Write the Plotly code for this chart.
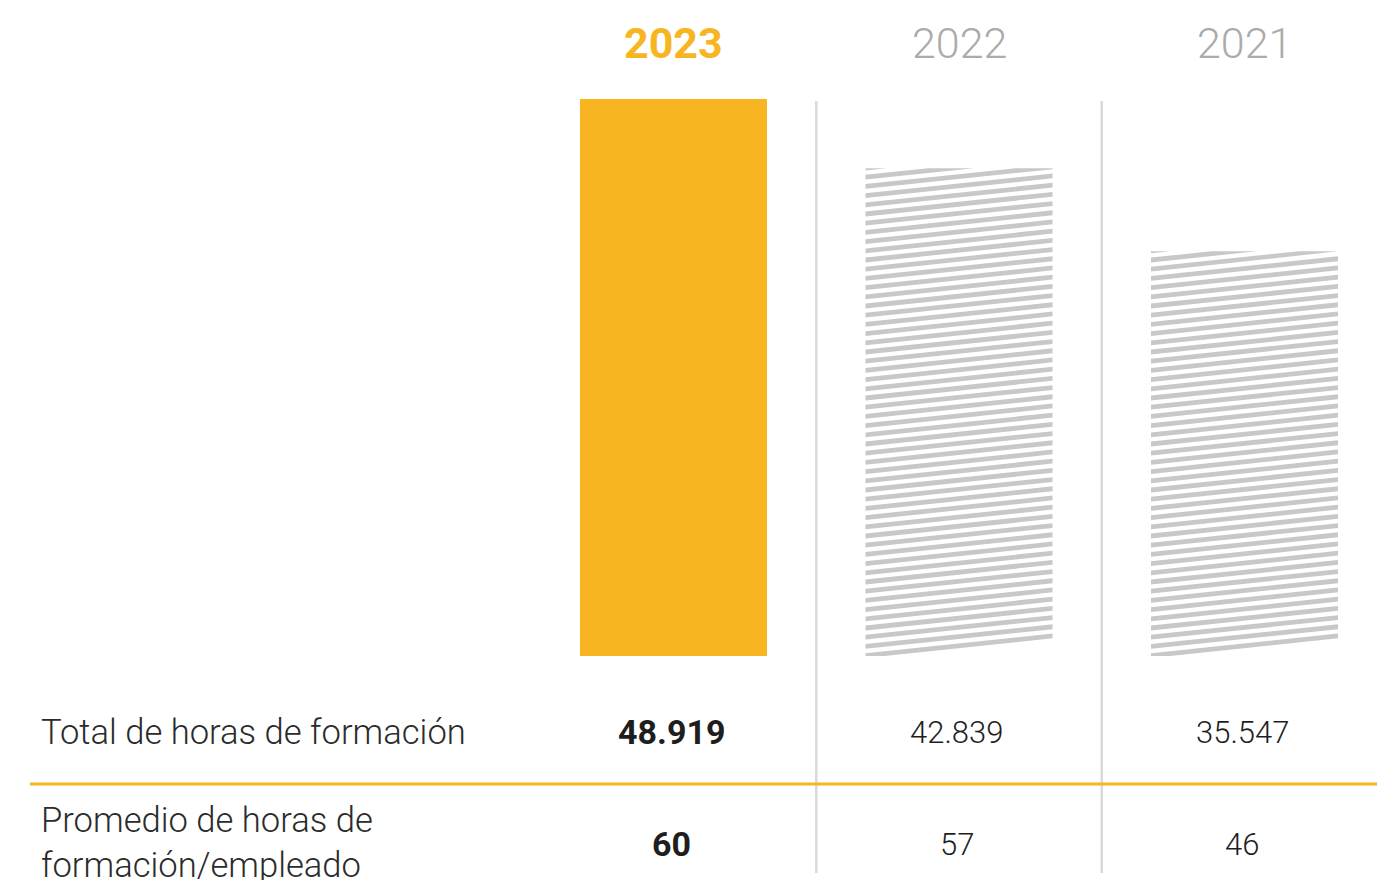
import numpy as np
import plotly.graph_objects as go

# ---- data -------------------------------------------------------------
years = ["2023", "2022", "2021"]
total_hours = [48919, 42839, 35547]
total_hours_labels = ["48.919", "42.839", "35.547"]
avg_hours = [60, 57, 46]
row_labels = ["Total de horas de formación", "Promedio de horas de<br>formación/empleado"]

# ---- geometry / style ---------------------------------------------------
W, H = 1377, 880
ORANGE = "#F7B621"
HATCH = "#C8C8C8"
SEP = "#DADADA"
TEXT = "#2B2B2B"
GREY_YEAR = "#ABABAB"

col_px = 285.5          # pixels between column centres
first_col_px = 673.5    # pixel x of first column centre
bar_w = 0.655           # bar width in category units
base_px = 656           # pixel y of the zero line
max_bar_px = 557        # pixel height of the tallest bar

x_range = [-first_col_px / col_px, (W - first_col_px) / col_px]
py_per_unit = max_bar_px / max(total_hours)
y_range = [-(H - base_px) / py_per_unit, base_px / py_per_unit]

xs = np.arange(len(years))


def px_to_data(px, py):
    return x_range[0] + px / col_px, (base_px - py) / py_per_unit


def data_to_px(x, y):
    return (x - x_range[0]) * col_px, base_px - y * py_per_unit


def clip_y(poly, ymin, ymax):
    """Clip polygon (pixel coords) to ymin <= y <= ymax."""
    def clip(pts, inside, inter):
        out = []
        n = len(pts)
        for i in range(n):
            a, b = pts[i], pts[(i + 1) % n]
            ia, ib = inside(a), inside(b)
            if ia:
                out.append(a)
            if ia != ib:
                out.append(inter(a, b))
        return out

    def inter_at(yc):
        def f(a, b):
            t = (yc - a[1]) / (b[1] - a[1])
            return (a[0] + t * (b[0] - a[0]), yc)
        return f

    pts = clip(poly, lambda p: p[1] >= ymin, inter_at(ymin))
    if pts:
        pts = clip(pts, lambda p: p[1] <= ymax, inter_at(ymax))
    return pts


def hatch_polys(xc, value, period=9.2, thick=4.8, slope=0.105):
    left, bottom = data_to_px(xc - bar_w / 2, 0)
    right, top = data_to_px(xc + bar_w / 2, value)
    rise = slope * (right - left)
    hx, hy = [], []
    y0 = bottom + 2.0
    while y0 - thick > top - rise - period:
        band = [(left, y0), (right, y0 - rise), (right, y0 - rise - thick), (left, y0 - thick)]
        pts = clip_y(band, top, bottom)
        if len(pts) >= 3:
            for p in pts + [pts[0]]:
                dx, dy = px_to_data(*p)
                hx.append(dx)
                hy.append(dy)
            hx.append(None)
            hy.append(None)
        y0 -= period
    return hx, hy


fig = go.Figure()

bar_colors = [ORANGE, "rgba(255,255,255,0)", "rgba(255,255,255,0)"]
fig.add_trace(go.Bar(
    x=xs, y=total_hours, width=bar_w,
    marker=dict(color=bar_colors, line=dict(width=0)),
    customdata=years, hovertemplate="%{customdata}: %{y}<extra></extra>",
    showlegend=False,
))

for i in range(1, len(years)):
    hx, hy = hatch_polys(xs[i], total_hours[i])
    fig.add_trace(go.Scatter(
        x=hx, y=hy, mode="lines", fill="toself", fillcolor=HATCH,
        line=dict(width=0, color=HATCH), hoverinfo="skip", showlegend=False,
    ))


def py(pix):
    return 1 - pix / H


ann = []
# year headers
for i, yr in enumerate(years):
    first = i == 0
    ann.append(dict(
        x=xs[i], y=py(43), xref="x", yref="paper", text=yr, showarrow=False,
        xanchor="center", yanchor="middle",
        font=dict(family="Roboto", size=43, color=ORANGE if first else GREY_YEAR,
                  weight=700 if first else 300),
    ))

# row labels
for txt, ypix in zip(row_labels, (732, 842)):
    ann.append(dict(x=39 / W, y=py(ypix), xref="paper", yref="paper", text=txt,
                    showarrow=False, xanchor="left", yanchor="middle", align="left",
                    font=dict(family="Roboto", size=34.6, color=TEXT, weight=300)))

# values
for i in range(len(years)):
    first = i == 0
    vfont = dict(family="Roboto", size=34 if first else 31, color="#1E1E1E",
                 weight=700 if first else 300)
    ann.append(dict(
        x=xs[i], y=py(732), xref="x", yref="paper", text=total_hours_labels[i],
        showarrow=False, xanchor="center", yanchor="middle", xshift=-2.5, font=vfont,
    ))
    ann.append(dict(
        x=xs[i], y=py(844), xref="x", yref="paper", text=str(avg_hours[i]),
        showarrow=False, xanchor="center", yanchor="middle", xshift=-2.5, font=vfont,
    ))

shapes = []
# column separators
for xm in (xs[:-1] + 0.5):
    shapes.append(dict(type="line", xref="x", yref="paper", x0=xm, x1=xm,
                       y0=py(101), y1=py(873), line=dict(color=SEP, width=2.5), layer="below"))
# orange rule between the two rows
shapes.append(dict(type="line", xref="paper", yref="paper", x0=30 / W, x1=1,
                   y0=py(784), y1=py(784), line=dict(color=ORANGE, width=3), layer="above"))

fig.update_layout(
    width=W, height=H,
    margin=dict(l=0, r=0, t=0, b=0),
    paper_bgcolor="white", plot_bgcolor="white",
    xaxis=dict(range=x_range, visible=False, fixedrange=True),
    yaxis=dict(range=y_range, visible=False, fixedrange=True),
    annotations=ann, shapes=shapes,
    font=dict(family="Roboto"),
    showlegend=False,
)

fig.write_html("out.html", config={"displayModeBar": False})
